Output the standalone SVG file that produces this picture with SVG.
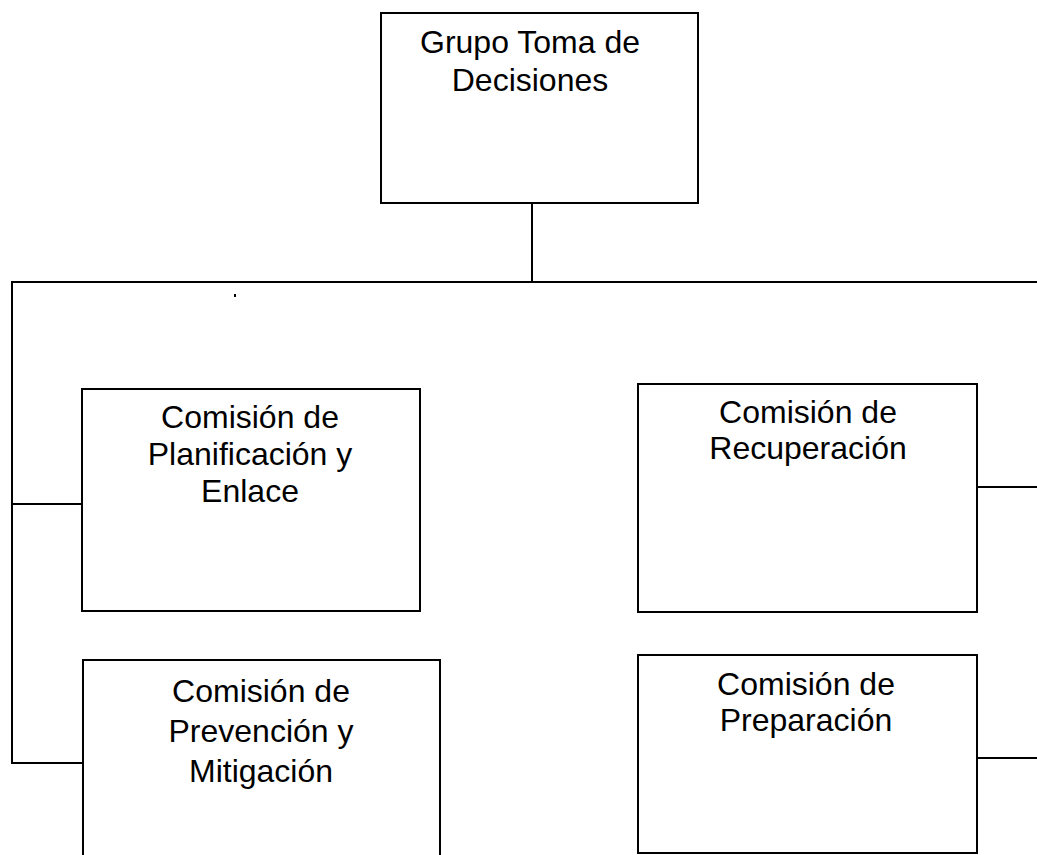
<svg xmlns="http://www.w3.org/2000/svg" width="1037" height="855" viewBox="0 0 1037 855">
<style>
.box{fill:#fff;stroke:#000;stroke-width:2}
.con{fill:none;stroke:#000;stroke-width:2}
.t{font-family:"Liberation Sans",Arial,sans-serif;font-size:32px;fill:#000;text-anchor:middle}
</style>
<rect width="1037" height="855" fill="#fff"/>
<g id="connectors">
<line class="con" x1="532" y1="203" x2="532" y2="282"/>
<line class="con" x1="11" y1="282" x2="1037" y2="282"/>
<line class="con" x1="12" y1="281" x2="12" y2="764"/>
<line class="con" x1="11" y1="504" x2="82" y2="504"/>
<line class="con" x1="11" y1="763" x2="83" y2="763"/>
<line class="con" x1="977" y1="487" x2="1037" y2="487"/>
<line class="con" x1="977" y1="758" x2="1037" y2="758"/>
</g>
<g id="grupo">
<rect class="box" x="381" y="13" width="317" height="190"/>
<text class="t" x="530" y="53">Grupo Toma de</text>
<text class="t" x="530" y="91">Decisiones</text>
</g>
<g id="planificacion">
<rect class="box" x="82" y="389" width="338" height="222"/>
<text class="t" x="250" y="428">Comisión de</text>
<text class="t" x="250" y="465">Planificación y</text>
<text class="t" x="250" y="502">Enlace</text>
</g>
<g id="prevencion">
<rect class="box" x="83" y="660" width="357" height="200"/>
<text class="t" x="261" y="702">Comisión de</text>
<text class="t" x="261" y="742">Prevención y</text>
<text class="t" x="261" y="782">Mitigación</text>
</g>
<g id="recuperacion">
<rect class="box" x="638" y="384" width="339" height="228"/>
<text class="t" x="808" y="423">Comisión de</text>
<text class="t" x="808" y="459">Recuperación</text>
</g>
<g id="preparacion">
<rect class="box" x="638" y="655" width="339" height="198"/>
<text class="t" x="806" y="695">Comisión de</text>
<text class="t" x="806" y="731">Preparación</text>
</g>
<rect x="234" y="294" width="2" height="3" fill="#000"/>
</svg>
